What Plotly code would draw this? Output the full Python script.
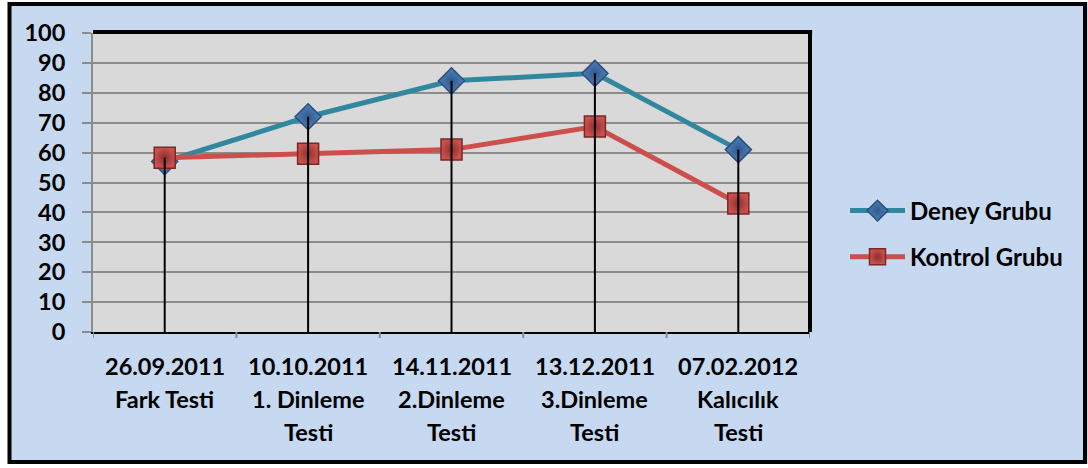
import plotly.graph_objects as go

cat_dates = ["26.09.2011", "10.10.2011", "14.11.2011", "13.12.2011", "07.02.2012"]
cat_line2 = ["Fark Testi", "1. Dinleme", "2.Dinleme", "3.Dinleme", "Kalıcılık"]
cat_line3 = ["", "Testi", "Testi", "Testi", "Testi"]
deney = [57, 72, 84, 86.5, 61]
kontrol = [58.3, 59.6, 61, 68.7, 43]
y_ticks = list(range(0, 101, 10))

FONT = "Lato"
W, H = 1088, 468
L, R, T, B = 93, 810, 33, 332
pw, ph = R - L, B - T


def px_to_paper_x(px):
    return (px - L) / pw


def px_to_paper_y(py):
    return (B - py) / ph


xs = list(range(len(cat_dates)))
fig = go.Figure()

fig.add_trace(go.Scatter(
    x=xs, y=deney, name="Deney Grubu", mode="lines+markers",
    legendgroup="a",
    line=dict(color="#31879e", width=5),
    marker=dict(symbol="diamond", size=20, color="#4f81bd",
                line=dict(color="#2c4f7c", width=1.5),
                gradient=dict(type="radial", color="#2f5a8c")),
))
fig.add_trace(go.Scatter(
    x=xs, y=kontrol, name="Kontrol Grubu", mode="lines+markers",
    legendgroup="b",
    line=dict(color="#cc4f4c", width=5),
    marker=dict(symbol="square", size=21, color="#c9514e",
                line=dict(color="#7a2826", width=1.5),
                gradient=dict(type="radial", color="#8e2f2c")),
))

# drop lines from the highest point of each category down to the axis
for i in xs:
    top = max(deney[i], kontrol[i])
    fig.add_shape(type="line", xref="x", yref="y", x0=i, x1=i, y0=0, y1=top,
                  line=dict(color="black", width=2), layer="above")

# plot area frame (top / right)
fig.add_shape(type="line", xref="paper", yref="paper", x0=0, x1=1.003, y0=1.003, y1=1.003,
              line=dict(color="black", width=4), layer="above")
fig.add_shape(type="line", xref="paper", yref="paper", x0=1.0, x1=1.0, y0=0, y1=1.006,
              line=dict(color="black", width=4), layer="above")

# white surroundings outside the chart border
fig.add_shape(type="rect", xref="paper", yref="paper", x0=px_to_paper_x(0), x1=px_to_paper_x(8),
              y0=px_to_paper_y(H), y1=px_to_paper_y(0), fillcolor="white", line_width=0, layer="above")
fig.add_shape(type="rect", xref="paper", yref="paper", x0=px_to_paper_x(0), x1=px_to_paper_x(W),
              y0=px_to_paper_y(2), y1=px_to_paper_y(0), fillcolor="white", line_width=0, layer="above")
fig.add_shape(type="rect", xref="paper", yref="paper", x0=px_to_paper_x(0), x1=px_to_paper_x(W),
              y0=px_to_paper_y(H), y1=px_to_paper_y(464), fillcolor="white", line_width=0, layer="above")

# outer chart border
fig.add_shape(type="rect", xref="paper", yref="paper",
              x0=px_to_paper_x(9.5), x1=px_to_paper_x(1085),
              y0=px_to_paper_y(462), y1=px_to_paper_y(4),
              line=dict(color="black", width=4), layer="above")

# category boundary tick marks on the x axis
for b in [i - 0.5 for i in range(len(cat_dates) + 1)]:
    fig.add_shape(type="line", xref="x", yref="paper", x0=b, x1=b, y0=0, y1=px_to_paper_y(338),
                  line=dict(color="#8c8c8c", width=2), layer="above")

# category labels (three lines each)
for lines, ypx in [(cat_dates, 366), (cat_line2, 399), (cat_line3, 432)]:
    for i, txt in enumerate(lines):
        if not txt:
            continue
        fig.add_annotation(x=i, xref="x", y=px_to_paper_y(ypx), yref="paper", text=txt,
                           showarrow=False, xanchor="center", yanchor="middle",
                           font=dict(family=FONT, size=23.5, color="black", weight="bold"))

fig.update_layout(
    width=W, height=H,
    margin=dict(l=L, r=W - R, t=T, b=H - B, pad=0),
    paper_bgcolor="#c6d9f1",
    plot_bgcolor="#d9d9d9",
    font=dict(family=FONT, size=23.5, color="black", weight="bold"),
    showlegend=True,
    legend=dict(
        x=px_to_paper_x(845), y=px_to_paper_y(234), xanchor="left", yanchor="middle",
        bgcolor="rgba(0,0,0,0)", font=dict(family=FONT, size=24, color="black", weight="bold"),
        traceorder="grouped", tracegroupgap=12, itemwidth=55,
    ),
    xaxis=dict(
        type="linear", range=[-0.5, len(cat_dates) - 0.5],
        showticklabels=False, ticks="", showgrid=False, zeroline=False,
        showline=True, linecolor="black", linewidth=2,
    ),
    yaxis=dict(
        range=[0, 100], tickvals=y_ticks, ticks="outside", ticklen=9, tickcolor="#8c8c8c",
        tickwidth=2, showgrid=True, gridcolor="#8c8c8c", gridwidth=2, zeroline=False,
        showline=True, linecolor="#8c8c8c", linewidth=2,
        ticklabelstandoff=12,
        tickfont=dict(family=FONT, size=23.5, color="black", weight="bold"),
    ),
)

fig.write_html("out.html", config={"displayModeBar": False},
               post_script="document.body.style.margin='0';document.body.style.overflow='hidden';")
